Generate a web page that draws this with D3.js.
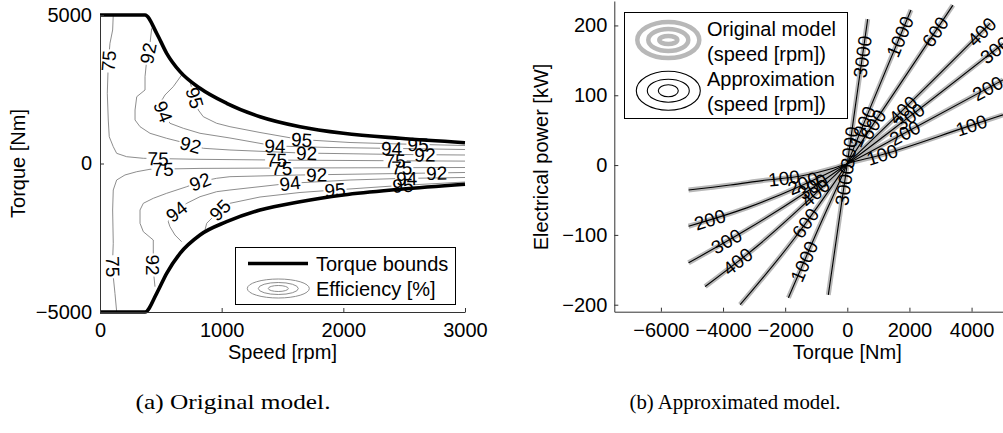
<!DOCTYPE html>
<html><head><meta charset="utf-8">
<script src="https://cdn.jsdelivr.net/npm/d3@7"></script>
<style>
body{margin:0;background:#fff;}
</style></head><body>
<svg id="c" width="1003" height="433" xmlns="http://www.w3.org/2000/svg"></svg>
<script>
// ---------------- DATA ----------------
// (a) Original model: torque bounds (speed rpm -> torque Nm)
const speedBound  = [0, 370, 466, 548, 658, 822, 1041, 1315, 1644, 2000, 2466, 3000];
const torqueUpper = [5000, 5000, 4384, 3710, 3091, 2532, 2027, 1576, 1239, 1017, 848, 700];
const torqueLower = [-5000, -5000, -4370, -3697, -3024, -2407, -1960, -1566, -1286, -1061, -869, -700];

// Efficiency contour lines [speed rpm, torque Nm]
const effLevels = [75, 92, 94, 95];
const eff75Upper = [[109,5000],[104,4495],[82,4047],[68,3374],[60,2364],[68,1465],[76,902],[109,566],[137,343],[219,229],[356,175],[822,140],[1644,110],[3000,80]];
const eff92Upper = [[425,4552],[411,4047],[384,3485],[370,2923],[370,2475],[302,2249],[288,1801],[288,1465],[329,1239],[411,1017],[548,848],[658,734],[849,512],[1068,455],[1644,354],[2466,303],[3000,286]];
const eff94Upper = [[671,2980],[602,2586],[534,2306],[493,2027],[520,1744],[575,1354],[685,1185],[822,1017],[1068,859],[1438,589],[1890,539],[2466,505],[3000,471]];
const eff95Upper = [[740,2744],[764,2407],[808,1801],[849,1576],[959,1354],[1068,1239],[1315,1044],[1644,808],[2055,707],[2466,657],[3000,606]];
const eff75Lower = [[137,-4990],[123,-4370],[109,-3811],[104,-3249],[109,-2687],[104,-1566],[109,-892],[137,-556],[205,-387],[302,-276],[411,-195],[822,-165],[1644,-150],[3000,-135]];
const eff92Lower = [[452,-4148],[438,-3586],[438,-2912],[438,-2576],[356,-2296],[329,-2013],[329,-1566],[356,-1340],[438,-1172],[548,-1003],[713,-781],[822,-613],[959,-498],[1068,-444],[1644,-387],[2466,-337],[3000,-303]];
const eff94Lower = [[671,-2633],[616,-2407],[575,-2128],[561,-1960],[592,-1734],[713,-1340],[822,-1118],[959,-949],[1068,-892],[1562,-667],[2055,-556],[2466,-505],[3000,-471]];
const eff95Lower = [[863,-2239],[877,-2013],[931,-1791],[986,-1566],[1068,-1340],[1315,-1128],[1644,-976],[1932,-892],[2466,-741],[3000,-623]];

// Contour labels: [level, side (1 upper / -1 lower), approx speed, approx torque]
const effLabels = [
  [75,1,74,3451],[92,1,384,3721],[95,1,767,2195],[94,1,520,1744],[92,1,740,566],[75,1,477,170],
  [94,1,1438,580],[95,1,1658,791],[92,1,1699,340],[75,1,1452,120],
  [94,1,2397,512],[95,1,2614,650],[92,1,2671,300],[75,1,2425,95],
  [75,-1,518,-170],[75,-1,109,-3475],[92,-1,425,-3417],[92,-1,822,-613],[94,-1,630,-1623],[95,-1,986,-1566],
  [75,-1,1493,-150],[92,-1,1781,-387],[94,-1,1562,-667],[95,-1,1932,-892],
  [75,-1,2480,-140],[94,-1,2521,-498],[95,-1,2490,-724],[92,-1,2767,-330]
];
const xTicksA = [0, 1000, 2000, 3000];
const yTicksA = [-5000, 0, 5000];

// (b) Approximated model: speed contours in (torque Nm, electrical power kW)
const speedLevels = [100, 200, 300, 400, 600, 1000, 3000];
const line100  = [[-5110,-35.7],[-3770,-28.6],[-2590,-21.4],[-1530,-16],[-450,-4.5],[0,2],[1106,14.8],[3839,54.7],[5016,72]];
const line200  = [[-5110,-87.6],[-3235,-61.3],[0,2],[1852,46],[5016,122]];
const line300  = [[-5110,-140],[-3235,-92.4],[0,2],[2010,69.7],[5016,174]];
const line400  = [[-4576,-174],[-2913,-116.6],[0,2],[1801,79.3],[4600,203]];
const line600  = [[-3450,-200],[-1736,-107],[0,2],[826,58],[3400,229]];
const line1000 = [[-1897,-190],[-1000,-98],[0,2],[700,78],[2050,222]];
const line3000 = [[-611,-186],[-300,-90],[0,2],[309,100],[656,209]];
// labels: [speed, power kW at label]
const speedLabels = [[100,57],[100,15],[100,-18.6],[200,110],[200,46],[200,-25.7],[200,-78],
  [300,165],[300,69.7],[300,-30.6],[300,-109],[400,191],[400,79],[400,-40],[400,-138],
  [600,191],[600,58],[600,-83],[1000,184],[1000,55],[1000,-138],[3000,155],[3000,25],[3000,-28]];
const xTicksB = [-6000, -4000, -2000, 0, 2000, 4000];
const yTicksB = [-200, -100, 0, 100, 200];

// ---------------- DRAWING ----------------
const FONT = '"Liberation Sans", Arial, Helvetica, sans-serif';
const SERIF = '"Liberation Serif", "Times New Roman", serif';
const FS = 20;      // axis / legend text
const FSL = 19;     // contour labels
const svg = d3.select('#c');
const defs = svg.append('defs');
const fmt = d3.format('d');

function normAng(a){ if(a>90) a-=180; if(a<=-90) a+=180; return a; }
function snap(pts, px, py){
  let best=null;
  for(let i=0;i<pts.length-1;i++){
    const a=pts[i], b=pts[i+1], dx=b[0]-a[0], dy=b[1]-a[1], L2=(dx*dx+dy*dy)||1;
    let t=((px-a[0])*dx+(py-a[1])*dy)/L2; t=Math.max(0,Math.min(1,t));
    const qx=a[0]+t*dx, qy=a[1]+t*dy, d=(qx-px)**2+(qy-py)**2;
    if(!best||d<best.d) best={d,x:qx,y:qy,ang:normAng(Math.atan2(dy,dx)*180/Math.PI)};
  }
  return best;
}

// ===== (a) =====
const xA = d3.scaleLinear().domain([0,3000]).range([100,465]);
const yA = d3.scaleLinear().domain([-5000,5000]).range([312,15]);

const contours = [
  {level:effLevels[0], side:1, pts:eff75Upper},{level:effLevels[1], side:1, pts:eff92Upper},
  {level:effLevels[2], side:1, pts:eff94Upper},{level:effLevels[3], side:1, pts:eff95Upper},
  {level:effLevels[0], side:-1, pts:eff75Lower},{level:effLevels[1], side:-1, pts:eff92Lower},
  {level:effLevels[2], side:-1, pts:eff94Lower},{level:effLevels[3], side:-1, pts:eff95Lower}
];
const gC = svg.append('g');
contours.forEach((c,i)=>{
  c.screen = c.pts.map(p=>[xA(p[0]), yA(p[1])]);
  c.mask = defs.append('mask').attr('id','em'+i).attr('maskUnits','userSpaceOnUse')
    .attr('x',0).attr('y',0).attr('width',1003).attr('height',433);
  c.mask.append('rect').attr('width',1003).attr('height',433).attr('fill','white');
  gC.append('path').attr('d', d3.line()(c.screen)).attr('fill','none')
    .attr('stroke','#808080').attr('stroke-width',0.9).attr('mask','url(#em'+i+')');
});

const boundLine = d3.line().x(d=>xA(d[0])).y(d=>yA(d[1])).curve(d3.curveMonotoneX);
[torqueUpper, torqueLower].forEach(arr=>{
  svg.append('path').attr('d', boundLine(speedBound.map((s,i)=>[s,arr[i]])))
    .attr('fill','none').attr('stroke','#000').attr('stroke-width',3.6);
});

const gLab = svg.append('g').attr('font-family',FONT).attr('font-size',FSL);
effLabels.forEach(([lev, side, s, t])=>{
  const c = contours.find(c=>c.level===lev && c.side===side);
  const p = snap(c.screen, xA(s), yA(t));
  const tr = `translate(${p.x},${p.y}) rotate(${p.ang})`;
  const txt = gLab.append('text').attr('transform',tr).attr('text-anchor','middle')
    .attr('dy','0.36em').attr('fill','#000').text(lev);
  const w = txt.node().getComputedTextLength();
  c.mask.append('rect').attr('transform',tr).attr('x',-w/2-1).attr('y',-7)
    .attr('width',w+2).attr('height',14).attr('fill','black');
});

function styleAxis(g){
  g.attr('font-size',FS).attr('font-family',FONT);
  g.selectAll('text').attr('fill','#000');
  g.selectAll('path,line').attr('stroke','#333');
}
svg.append('g').attr('transform','translate(0,312)')
  .call(d3.axisBottom(xA).tickValues(xTicksA).tickFormat(fmt).tickSize(-4).tickSizeOuter(0).tickPadding(11))
  .call(styleAxis);
svg.append('g').attr('transform','translate(100,0)')
  .call(d3.axisLeft(yA).tickValues(yTicksA).tickFormat(fmt).tickSize(-4).tickSizeOuter(0).tickPadding(8))
  .call(styleAxis);

svg.append('text').attr('x',282.5).attr('y',359).attr('text-anchor','middle')
  .attr('font-family',FONT).attr('font-size',FS).text('Speed [rpm]');
svg.append('text').attr('transform','translate(25,163.5) rotate(-90)').attr('text-anchor','middle')
  .attr('font-family',FONT).attr('font-size',FS).text('Torque [Nm]');

// legend (a)
const lgA = svg.append('g').attr('font-family',FONT).attr('font-size',FS);
lgA.append('rect').attr('x',235.5).attr('y',247.5).attr('width',220).attr('height',57)
  .attr('fill','#fff').attr('stroke','#000').attr('stroke-width',1);
lgA.append('line').attr('x1',248).attr('x2',308).attr('y1',263.5).attr('y2',263.5)
  .attr('stroke','#000').attr('stroke-width',3.6);
lgA.append('text').attr('x',316).attr('y',270.5).text('Torque bounds');
[[31,9.5],[20,6],[10,3]].forEach(([rx,ry])=>{
  lgA.append('ellipse').attr('cx',278.3).attr('cy',288.5).attr('rx',rx).attr('ry',ry)
    .attr('fill','none').attr('stroke','#808080').attr('stroke-width',0.9);
});
lgA.append('text').attr('x',316).attr('y',295.5).text('Efficiency [%]');

// ===== (b) =====
const xB = d3.scaleLinear().domain([-7500,7500]).range([614.3,1080.3]);
const yB = d3.scaleLinear().domain([-210,235]).range([311.7,1]);
defs.append('clipPath').attr('id','clipB').append('rect')
  .attr('x',614.3).attr('y',1).attr('width',466).attr('height',310.7);

const speedLines = [line100, line200, line300, line400, line600, line1000, line3000];
const lineB = d3.line().x(d=>xB(d[0])).y(d=>yB(d[1])).curve(d3.curveMonotoneX);
const gB = svg.append('g').attr('clip-path','url(#clipB)');
speedLines.forEach(l=>{
  gB.append('path').attr('d',lineB(l)).attr('fill','none')
    .attr('stroke','#b8b8b8').attr('stroke-width',5);
});
speedLines.forEach(l=>{
  gB.append('path').attr('d',lineB(l)).attr('fill','none')
    .attr('stroke','#000').attr('stroke-width',1.1);
});

const gLabB = svg.append('g').attr('font-family',FONT).attr('font-size',FSL);
speedLabels.forEach(([sp, P])=>{
  const l = speedLines[speedLevels.indexOf(sp)];
  for(let i=0;i<l.length-1;i++){
    const a=l[i], b=l[i+1];
    if((P-a[1])*(P-b[1])<=0 && a[1]!==b[1]){
      const f=(P-a[1])/(b[1]-a[1]);
      const T=a[0]+f*(b[0]-a[0]);
      const ang=normAng(Math.atan2(yB(b[1])-yB(a[1]), xB(b[0])-xB(a[0]))*180/Math.PI);
      gLabB.append('text').attr('transform',`translate(${xB(T)},${yB(P)}) rotate(${ang})`)
        .attr('text-anchor','middle').attr('dy','0.36em').attr('fill','#000').text(sp);
      break;
    }
  }
});

svg.append('g').attr('transform','translate(0,311.7)')
  .call(d3.axisBottom(xB).tickValues(xTicksB).tickFormat(fmt).tickSize(-4).tickSizeOuter(0).tickPadding(11))
  .call(styleAxis);
svg.append('g').attr('transform','translate(614.3,0)')
  .call(d3.axisLeft(yB).tickValues(yTicksB).tickFormat(fmt).tickSize(-4).tickSizeOuter(0).tickPadding(7))
  .call(styleAxis);

svg.append('text').attr('x',847.3).attr('y',359).attr('text-anchor','middle')
  .attr('font-family',FONT).attr('font-size',FS).text('Torque [Nm]');
svg.append('text').attr('transform','translate(548,157) rotate(-90)').attr('text-anchor','middle')
  .attr('font-family',FONT).attr('font-size',FS).text('Electrical power [kW]');

// legend (b)
const lgB = svg.append('g').attr('font-family',FONT).attr('font-size',FS);
lgB.append('rect').attr('x',624.5).attr('y',12.5).attr('width',223).attr('height',106)
  .attr('fill','#fff').attr('stroke','#000').attr('stroke-width',1);
[[31,18],[20,11],[9,4]].forEach(([rx,ry])=>{
  lgB.append('ellipse').attr('cx',668.3).attr('cy',40).attr('rx',rx).attr('ry',ry)
    .attr('fill','none').attr('stroke','#b8b8b8').attr('stroke-width',4.5);
});
[[32,19.5],[21,11.5],[10,6]].forEach(([rx,ry])=>{
  lgB.append('ellipse').attr('cx',668.3).attr('cy',90.7).attr('rx',rx).attr('ry',ry)
    .attr('fill','none').attr('stroke','#000').attr('stroke-width',1.1);
});
lgB.append('text').attr('x',707).attr('y',35.5).text('Original model');
lgB.append('text').attr('x',707).attr('y',60.5).text('(speed [rpm])');
lgB.append('text').attr('x',707).attr('y',86).text('Approximation');
lgB.append('text').attr('x',707).attr('y',110.5).text('(speed [rpm])');

// captions
svg.append('text').attr('x',233).attr('y',409).attr('text-anchor','middle')
  .attr('font-family',SERIF).attr('font-size',22).attr('textLength',195)
  .attr('lengthAdjust','spacingAndGlyphs').text('(a) Original model.');
svg.append('text').attr('x',735).attr('y',409).attr('text-anchor','middle')
  .attr('font-family',SERIF).attr('font-size',22).attr('textLength',211)
  .attr('lengthAdjust','spacingAndGlyphs').text('(b) Approximated model.');
</script>
</body></html>
